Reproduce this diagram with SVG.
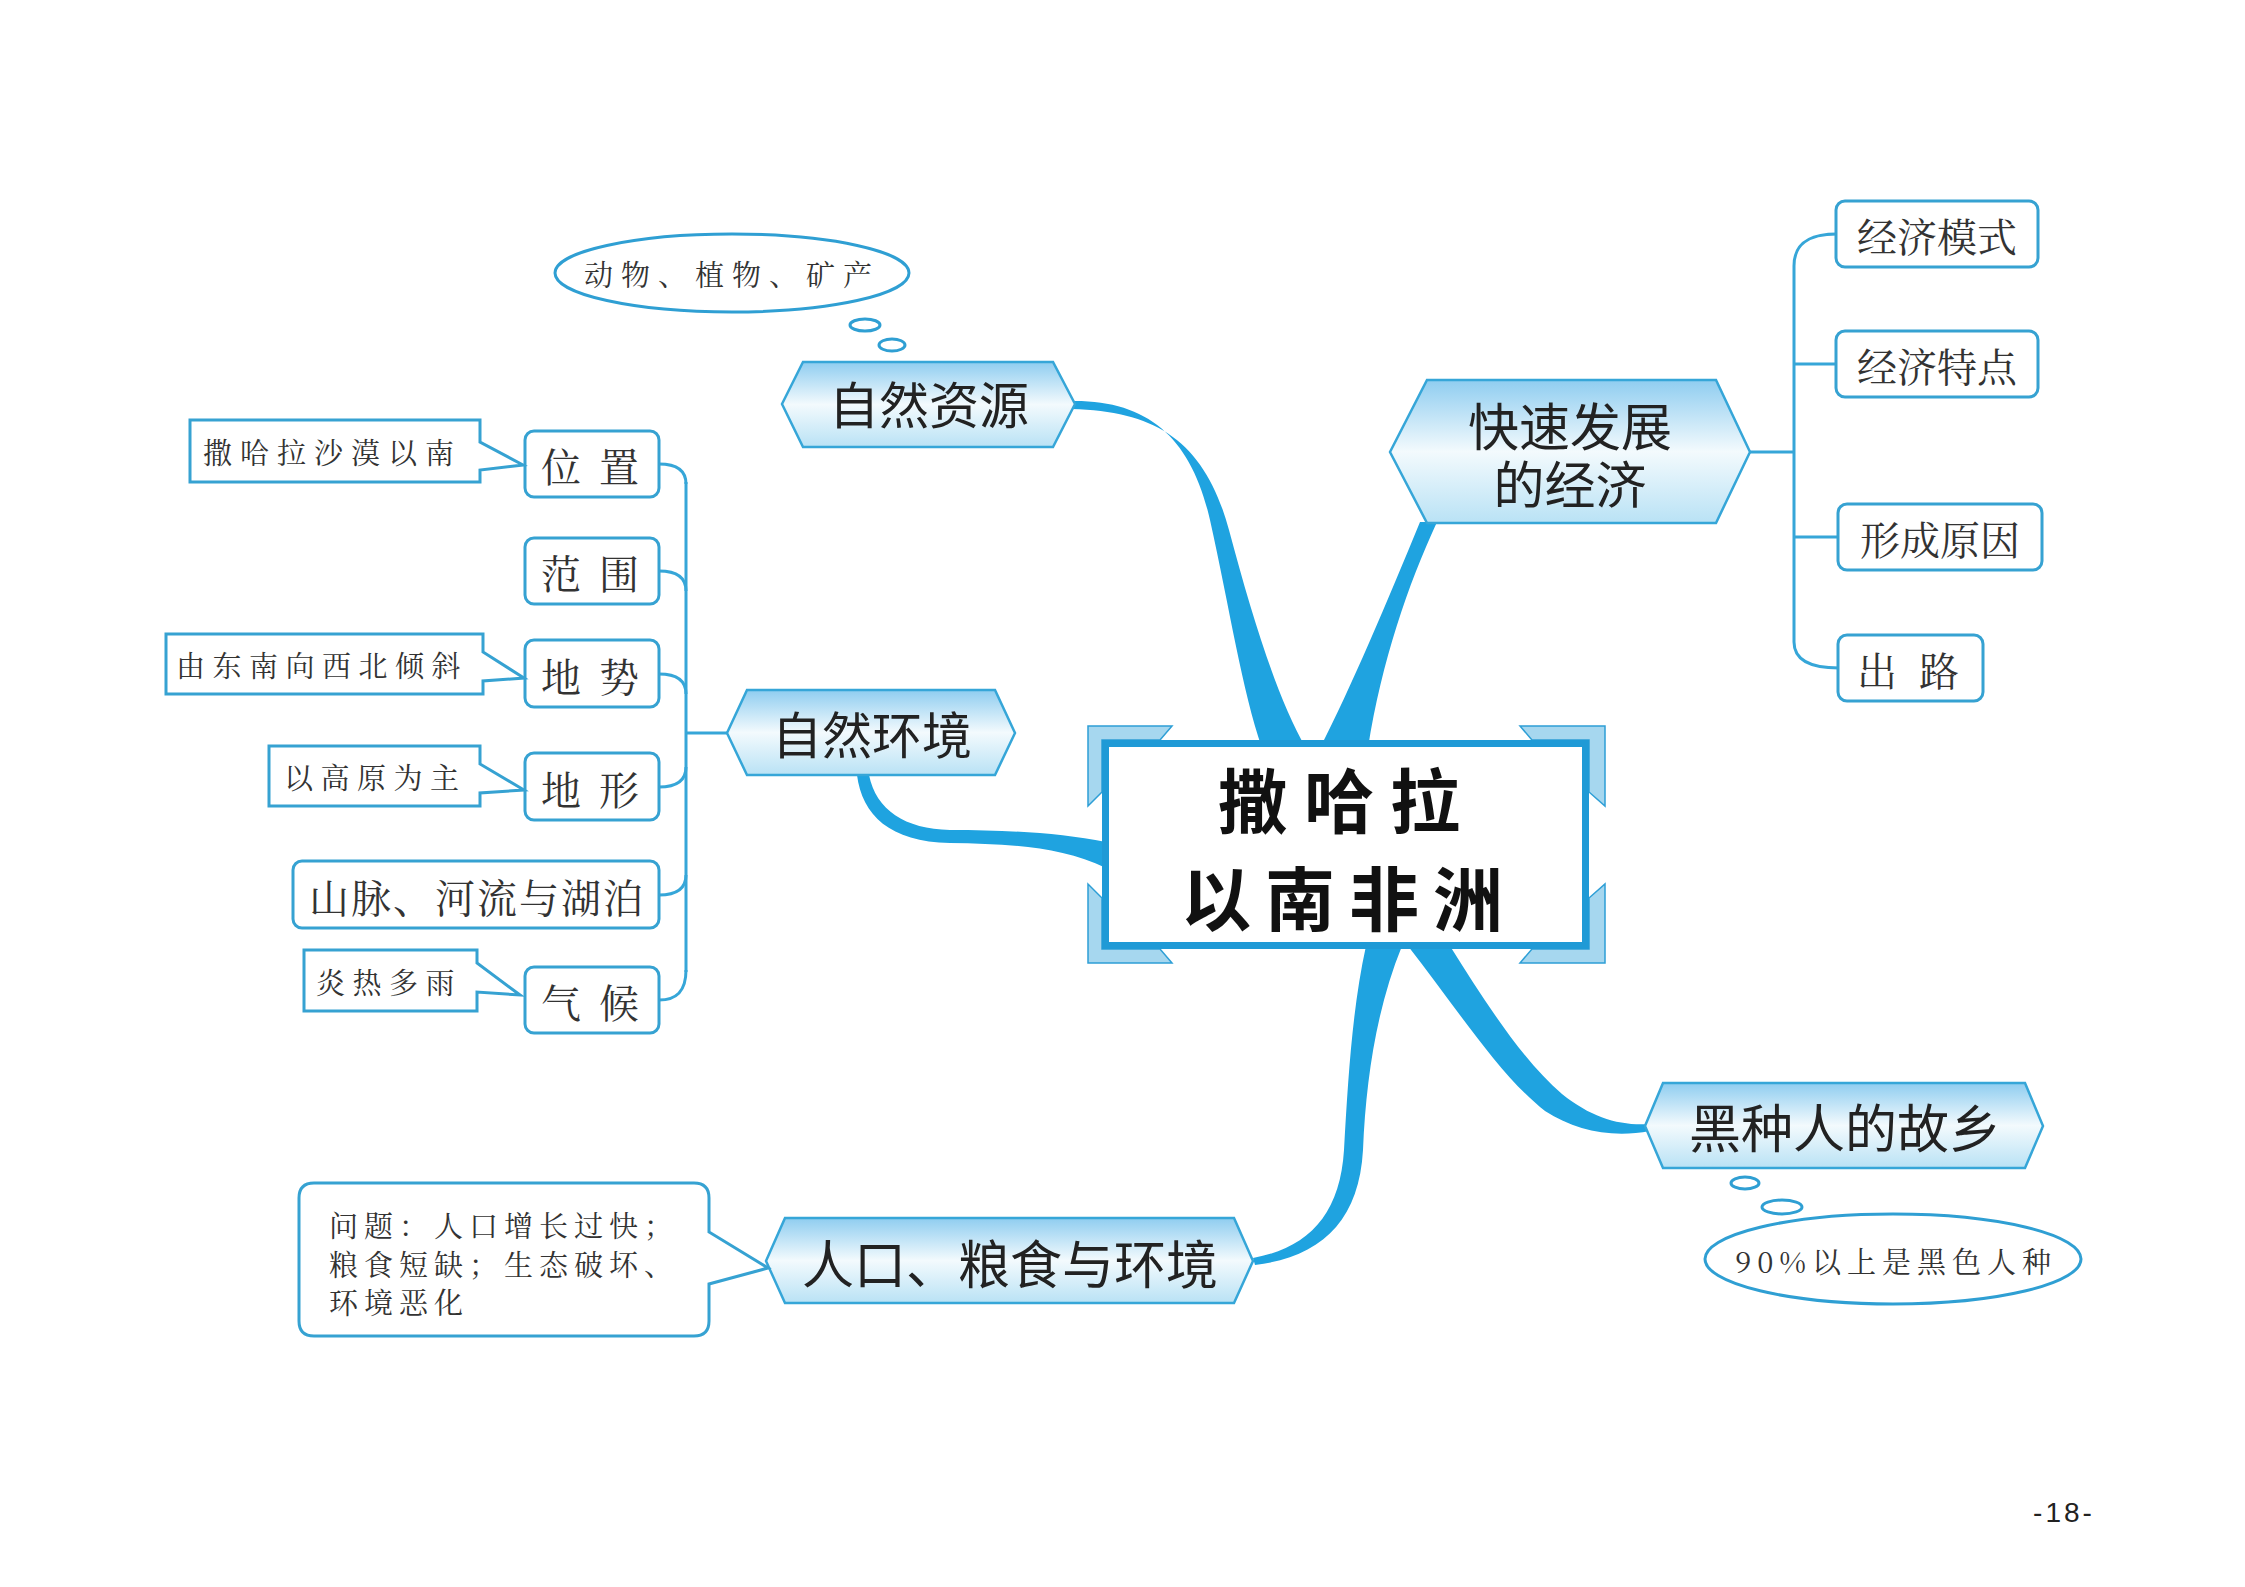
<svg xmlns="http://www.w3.org/2000/svg" width="2245" height="1587" viewBox="0 0 2245 1587">
<defs>
<linearGradient id="hexg" x1="0" y1="0" x2="0" y2="1">
<stop offset="0" stop-color="#8fcdf0"/>
<stop offset="0.5" stop-color="#f3fafd"/>
<stop offset="1" stop-color="#b9e2f5"/>
</linearGradient>
<style>
.hex{fill:url(#hexg);stroke:#36a6d8;stroke-width:2.5}
.htx{font-family:"Noto Sans CJK SC","Noto Sans",sans-serif;fill:#222;text-anchor:middle;dominant-baseline:central}
.box{fill:#fff;stroke:#36a2d2;stroke-width:3}
.btx{font-family:"Noto Serif CJK SC","Noto Sans CJK SC",serif;fill:#333;font-size:40px;text-anchor:middle;dominant-baseline:central}
.ctx{font-family:"Noto Serif CJK SC","Noto Sans CJK SC",serif;fill:#333;font-size:29px;dominant-baseline:central}
.cal{fill:#fff;stroke:#36a2d2;stroke-width:3;stroke-linejoin:miter}
.tree{fill:none;stroke:#36a6d8;stroke-width:3}
.flow{fill:#1fa3e0;stroke:none}
.bub{fill:#fff;stroke:#2f9fd3;stroke-width:3}
.corner{fill:#a6d7ef;stroke:#2e9fd6;stroke-width:1.5}
</style>
</defs>
<rect width="2245" height="1587" fill="#fff"/>

<g id="connectors">
<!-- thick tapered branches -->
<path class="flow" d="M1072 401 C1150 400 1192 440 1210 520 C1230 610 1242 690 1262 748 L1306 748 C1278 700 1253 620 1229 530 C1206 445 1160 411 1072 409 Z"/>
<path class="flow" d="M1420 522 L1437 522 C1408 585 1382 660 1368 748 L1320 748 C1350 690 1388 600 1420 522 Z"/>
<path class="flow" d="M857 775 C862 815 890 842 950 843 C1010 844 1060 846 1106 868 L1106 842 C1060 833 1010 830 950 830 C905 829 876 810 869 775 Z"/>
<path class="flow" d="M1366 946 L1402 946 C1376 1010 1366 1080 1363 1150 C1359 1222 1320 1257 1255 1265 L1253 1258 C1308 1248 1340 1215 1344 1150 C1348 1080 1352 1010 1366 946 Z"/>
<path class="flow" d="M1408 946 L1450 946 C1484 1000 1522 1060 1562 1094 C1592 1118 1620 1126 1650 1124 L1650 1131 C1612 1138 1576 1131 1545 1111 C1500 1076 1458 1010 1408 946 Z"/>
<!-- right tree -->
<path class="tree" d="M1748 452 H1794"/>
<path class="tree" d="M1837 234 C1808 234 1794 244 1794 266 V642 C1794 659 1808 668 1839 668"/>
<path class="tree" d="M1794 364 H1837"/>
<path class="tree" d="M1794 537 H1839"/>
<!-- left tree -->
<path class="tree" d="M729 733 H686"/>
<path class="tree" d="M686 482 V972"/>
<path class="tree" d="M659 464 C676 464 686 470 686 484"/>
<path class="tree" d="M659 571 C676 571 686 577 686 591"/>
<path class="tree" d="M659 674 C676 674 686 680 686 694"/>
<path class="tree" d="M659 787 C676 787 686 781 686 767"/>
<path class="tree" d="M659 895 C676 895 686 889 686 875"/>
<path class="tree" d="M659 1000 C676 1000 686 992 686 970"/>
</g>

<g id="center">
<polygon class="corner" points="1088,726 1172,726 1160,740 1102,740 1102,792 1088,806"/>
<polygon class="corner" points="1605,726 1520,726 1532,740 1589,740 1589,792 1605,806"/>
<polygon class="corner" points="1088,963 1172,963 1160,949 1102,949 1102,898 1088,884"/>
<polygon class="corner" points="1605,963 1520,963 1532,949 1589,949 1589,898 1605,884"/>
<rect x="1105.5" y="743.5" width="480" height="202" fill="#fff" stroke="#1f9ad6" stroke-width="7"/>
<text x="1347" y="797" font-family="Noto Sans CJK SC, sans-serif" font-weight="bold" font-size="70" letter-spacing="16" text-anchor="middle" dominant-baseline="central" fill="#111">撒哈拉</text>
<text x="1349" y="895" font-family="Noto Sans CJK SC, sans-serif" font-weight="bold" font-size="70" letter-spacing="14" text-anchor="middle" dominant-baseline="central" fill="#111">以南非洲</text>
</g>

<g id="n-ziranziyuan">
<polygon class="hex" points="782,404 803,362 1053,362 1075,404 1053,447 803,447"/>
<text class="htx" x="929" y="402" font-size="50">自然资源</text>
</g>
<g id="n-ziyuan-bubble">
<ellipse class="bub" cx="732" cy="273" rx="177" ry="39"/>
<ellipse class="bub" cx="865" cy="325" rx="15" ry="6" stroke-width="2.5"/>
<ellipse class="bub" cx="892" cy="345" rx="13" ry="6" stroke-width="2.5"/>
<text class="ctx" x="732" y="273" font-size="28" letter-spacing="8" text-anchor="middle">动物、植物、矿产</text>
</g>

<g id="n-jingji">
<polygon class="hex" points="1390,452 1427,380 1716,380 1750,452 1716,523 1427,523"/>
<text class="htx" x="1570" y="424" font-size="51">快速发展</text>
<text class="htx" x="1570" y="482" font-size="51">的经济</text>
</g>
<g id="n-jjms"><rect class="box" x="1836" y="201" width="202" height="66" rx="9"/><text class="btx" x="1937" y="234" font-size="42">经济模式</text></g>
<g id="n-jjts"><rect class="box" x="1836" y="331" width="202" height="66" rx="9"/><text class="btx" x="1937" y="364" font-size="42">经济特点</text></g>
<g id="n-xcyy"><rect class="box" x="1838" y="504" width="204" height="66" rx="9"/><text class="btx" x="1940" y="537" font-size="42">形成原因</text></g>
<g id="n-chulu"><rect class="box" x="1838" y="635" width="145" height="66" rx="9"/><text class="btx" x="1911" y="668" font-size="42" letter-spacing="6">出 路</text></g>

<g id="n-zirhj">
<polygon class="hex" points="727,733 747,690 995,690 1015,733 995,775 747,775"/>
<text class="htx" x="872" y="732" font-size="50">自然环境</text>
</g>
<g id="n-weizhi"><rect class="box" x="525" y="431" width="134" height="66" rx="9"/><text class="btx" x="592" y="464" letter-spacing="4">位 置</text></g>
<g id="n-fanwei"><rect class="box" x="525" y="538" width="134" height="66" rx="9"/><text class="btx" x="592" y="571" letter-spacing="4">范 围</text></g>
<g id="n-dishi"><rect class="box" x="525" y="640" width="134" height="67" rx="9"/><text class="btx" x="592" y="674" letter-spacing="4">地 势</text></g>
<g id="n-dixing"><rect class="box" x="525" y="753" width="134" height="67" rx="9"/><text class="btx" x="592" y="787" letter-spacing="4">地 形</text></g>
<g id="n-shanmai"><rect class="box" x="293" y="861" width="366" height="67" rx="9"/><text class="btx" x="477" y="895" letter-spacing="2">山脉、河流与湖泊</text></g>
<g id="n-qihou"><rect class="box" x="525" y="967" width="134" height="66" rx="9"/><text class="btx" x="592" y="1000" letter-spacing="4">气 候</text></g>

<g id="c-weizhi">
<path class="cal" d="M190 420 H480 V442 L523 465 L480 470 V482 H190 Z"/>
<text class="ctx" x="203" y="451" letter-spacing="8">撒哈拉沙漠以南</text>
</g>
<g id="c-dishi">
<path class="cal" d="M166 634 H483 V652 L524 678 L483 681 V694 H166 Z"/>
<text class="ctx" x="176" y="664" letter-spacing="7.5">由东南向西北倾斜</text>
</g>
<g id="c-dixing">
<path class="cal" d="M269 746 H480 V764 L524 790 L480 793 V806 H269 Z"/>
<text class="ctx" x="284" y="776" letter-spacing="7.5">以高原为主</text>
</g>
<g id="c-qihou">
<path class="cal" d="M304 950 H477 V963 L520 995 L477 992 V1011 H304 Z"/>
<text class="ctx" x="316" y="981" letter-spacing="7.5">炎热多雨</text>
</g>

<g id="n-renkou">
<polygon class="hex" points="766,1261 785,1218 1234,1218 1253,1261 1234,1303 785,1303"/>
<text class="htx" x="1010" y="1261" font-size="52">人口、粮食与环境</text>
</g>
<g id="c-renkou">
<path class="cal" d="M314 1183 H694 Q709 1183 709 1198 V1232 L768 1268 L709 1284 V1321 Q709 1336 694 1336 H314 Q299 1336 299 1321 V1198 Q299 1183 314 1183 Z"/>
<text class="ctx" x="329" y="1224" letter-spacing="6">问题：人口增长过快；</text>
<text class="ctx" x="329" y="1263" letter-spacing="6">粮食短缺；生态破坏、</text>
<text class="ctx" x="329" y="1301" letter-spacing="6">环境恶化</text>
</g>

<g id="n-heizhong">
<polygon class="hex" points="1645,1126 1663,1083 2025,1083 2043,1126 2025,1168 1663,1168"/>
<text class="htx" x="1845" y="1125" font-size="52">黑种人的故乡</text>
</g>
<g id="n-heizhong-bubble">
<ellipse class="bub" cx="1745" cy="1183" rx="14" ry="6" stroke-width="2.5"/>
<ellipse class="bub" cx="1782" cy="1207" rx="20" ry="7" stroke-width="2.5"/>
<ellipse class="bub" cx="1893" cy="1259" rx="188" ry="45"/>
<text class="ctx" x="1896" y="1260" font-size="29" letter-spacing="6" text-anchor="middle">90%以上是黑色人种</text>
</g>

<text x="2064" y="1512" font-family="Liberation Sans, sans-serif" font-size="28" letter-spacing="3" text-anchor="middle" dominant-baseline="central" fill="#222">-18-</text>
</svg>
